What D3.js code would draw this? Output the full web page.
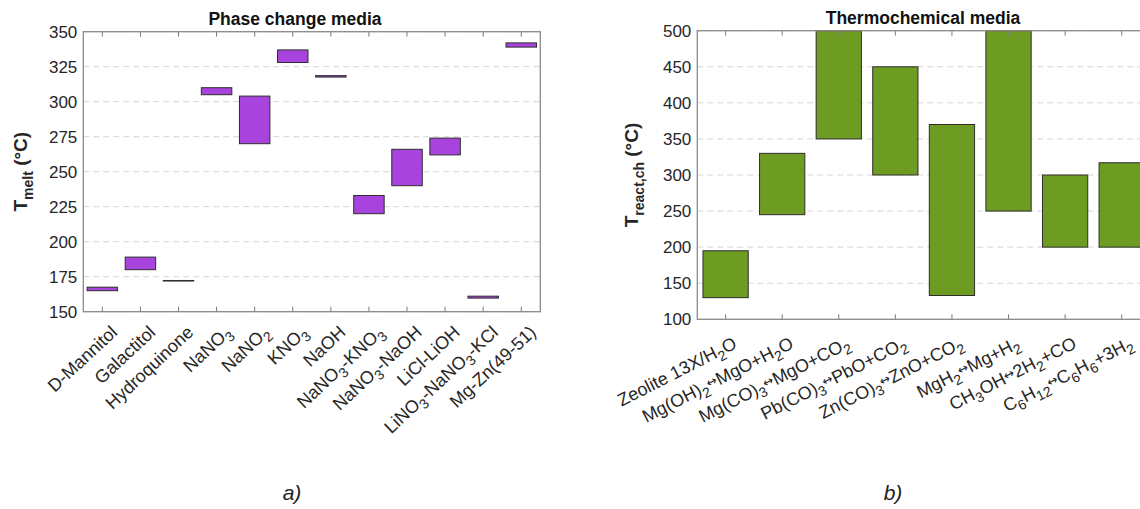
<!DOCTYPE html>
<html>
<head>
<meta charset="utf-8">
<script src="https://cdn.jsdelivr.net/npm/d3@7"></script>
<style>
  html, body { margin: 0; padding: 0; background: #fff; overflow: hidden; }
  svg { display: block; }
  text { font-family: "Liberation Sans", Arial, sans-serif; }
</style>
</head>
<body>
<svg id="fig" width="1140" height="509"></svg>
<script>
// ---- Phase change media: melting ranges (°C) ----
const pcmNames = ["D-Mannitol", "Galactitol", "Hydroquinone", "NaNO_3", "NaNO_2", "KNO_3", "NaOH",
                  "NaNO_3-KNO_3", "NaNO_3-NaOH", "LiCl-LiOH", "LiNO_3-NaNO_3-KCl", "Mg-Zn(49-51)"];
const pcmLow  = [165, 180, 171.9, 305, 270, 328, 317.6, 220, 240, 262, 159.7, 339];
const pcmHigh = [167.5, 189, 172.3, 310, 304, 337, 318.6, 233, 266, 274, 161.1, 342];
const pcmTicks = [150, 175, 200, 225, 250, 275, 300, 325, 350];

// ---- Thermochemical media: reaction ranges (°C) ----
const tcmNames = ["Zeolite 13X/H_2O", "Mg(OH)_2↔MgO+H_2O", "Mg(CO)_3↔MgO+CO_2", "Pb(CO)_3↔PbO+CO_2",
                  "Zn(CO)_3↔ZnO+CO_2", "MgH_2↔Mg+H_2", "CH_3OH↔2H_2+CO", "C_6H_{12}↔C_6H_6+3H_2"];
const tcmLow  = [130, 245, 350, 300, 133, 250, 200, 200];
const tcmHigh = [195, 330, 500, 450, 370, 500, 300, 317];
const tcmTicks = [100, 150, 200, 250, 300, 350, 400, 450, 500];

const svg = d3.select("#fig");

// Split a TeX-like label ("NaNO_3", "C_6H_{12}") into runs of normal / subscript / arrow text
function parseRich(str) {
  const runs = [];
  let i = 0, buf = "";
  const flush = () => { if (buf) { runs.push({ t: buf, k: "n" }); buf = ""; } };
  while (i < str.length) {
    const c = str[i];
    if (c === "_") {
      flush();
      let sub = "";
      if (str[i + 1] === "{") {
        const j = str.indexOf("}", i + 2);
        sub = str.slice(i + 2, j); i = j + 1;
      } else { sub = str[i + 1]; i += 2; }
      runs.push({ t: sub, k: "s" });
    } else if (c === "↔") {
      flush(); runs.push({ t: c, k: "a" }); i++;
    } else { buf += c; i++; }
  }
  flush();
  return runs;
}

// Write the runs as tspans, tracking the baseline offset so each run sits at its own level
function writeRich(textSel, str, size, subSize, subShift) {
  let cur = 0;
  parseRich(str).forEach(r => {
    let target = 0, fs = size, fam = null;
    if (r.k === "s") { target = subShift; fs = subSize; }
    else if (r.k === "a") { target = -3; fs = size * 0.7; fam = "DejaVu Sans"; }
    const ts = textSel.append("tspan").attr("font-size", fs).attr("dy", target - cur).text(r.t);
    if (fam) ts.attr("font-family", fam);
    cur = target;
  });
}

function drawPanel(opt) {
  const { x0, x1, y0, y1, names, low, high, ticks, color, title, titleX,
          yLabelSub, yLabelX, rot, lblDx, lblDy } = opt;
  const g = svg.append("g");

  const x = d3.scaleBand().domain(d3.range(names.length)).range([x0, x1])
    .paddingInner(0.2).paddingOuter(0.1);
  const y = d3.scaleLinear().domain([ticks[0], ticks[ticks.length - 1]]).range([y1, y0]);

  // dashed horizontal grid
  g.append("g").selectAll("line").data(ticks).join("line")
    .attr("x1", x0).attr("x2", x1)
    .attr("y1", d => y(d)).attr("y2", d => y(d))
    .attr("stroke", "#d6d6d6").attr("stroke-width", 1)
    .attr("stroke-dasharray", "6,4");

  // range bars
  g.append("g").selectAll("rect").data(names.map((n, i) => i)).join("rect")
    .attr("x", i => x(i))
    .attr("width", x.bandwidth())
    .attr("y", i => y(high[i]))
    .attr("height", i => y(low[i]) - y(high[i]))
    .attr("fill", color)
    .attr("stroke", "#2e2e2e").attr("stroke-width", 1);

  // y tick labels
  const yAxis = d3.axisLeft(y).tickValues(ticks).tickSize(0).tickPadding(6);
  const ya = g.append("g").attr("transform", `translate(${x0},0)`).call(yAxis);
  ya.select(".domain").remove();
  ya.selectAll("text").attr("font-size", 17).attr("fill", "#262626")
    .attr("font-family", "Liberation Sans, Arial, sans-serif");

  // inner tick marks at top and bottom
  const tk = g.append("g");
  names.forEach((n, i) => {
    const cx = x(i) + x.bandwidth() / 2;
    tk.append("line").attr("x1", cx).attr("x2", cx).attr("y1", y1).attr("y2", y1 - 5)
      .attr("stroke", "#7a7a7a").attr("stroke-width", 1);
    tk.append("line").attr("x1", cx).attr("x2", cx).attr("y1", y0).attr("y2", y0 + 5)
      .attr("stroke", "#7a7a7a").attr("stroke-width", 1);
  });

  // axes box
  g.append("rect").attr("x", x0).attr("y", y0).attr("width", x1 - x0).attr("height", y1 - y0)
    .attr("fill", "none").attr("stroke", "#8a8a8a").attr("stroke-width", 1.3);

  // rotated category labels
  names.forEach((n, i) => {
    const cx = x(i) + x.bandwidth() / 2;
    const t = g.append("text")
      .attr("transform", `translate(${cx + lblDx},${y1 + lblDy}) rotate(${-rot})`)
      .attr("text-anchor", "end")
      .attr("fill", "#262626");
    writeRich(t, n, 18, 14, 5);
  });

  // title
  g.append("text").attr("x", titleX).attr("y", y0 - 7)
    .attr("text-anchor", "middle").attr("font-weight", "bold")
    .attr("font-size", 17.5).attr("fill", "#111").text(title);

  // y axis title with subscript
  const yt = g.append("text")
    .attr("transform", `translate(${yLabelX},${(y0 + y1) / 2}) rotate(-90)`)
    .attr("text-anchor", "middle").attr("font-weight", "bold").attr("fill", "#262626");
  yt.append("tspan").attr("font-size", 19).text("T");
  yt.append("tspan").attr("font-size", 14).attr("dy", 6).text(yLabelSub);
  yt.append("tspan").attr("font-size", 19).attr("dy", -6).text(" (°C)");
}

drawPanel({
  x0: 83.3, x1: 540.3, y0: 31.7, y1: 311.7,
  names: pcmNames, low: pcmLow, high: pcmHigh, ticks: pcmTicks,
  color: "#a843dd", title: "Phase change media", titleX: 295,
  yLabelSub: "melt", yLabelX: 27, rot: 43, lblDx: 16, lblDy: 22
});

drawPanel({
  x0: 697.3, x1: 1150, y0: 30.7, y1: 319.3,
  names: tcmNames, low: tcmLow, high: tcmHigh, ticks: tcmTicks,
  color: "#6e9b22", title: "Thermochemical media", titleX: 923,
  yLabelSub: "react,ch", yLabelX: 638, rot: 27, lblDx: 12.5, lblDy: 28
});

// panel letters
svg.append("text").attr("x", 292).attr("y", 500).attr("text-anchor", "middle")
  .attr("font-style", "italic").attr("font-size", 21).attr("fill", "#222").text("a)");
svg.append("text").attr("x", 893).attr("y", 500).attr("text-anchor", "middle")
  .attr("font-style", "italic").attr("font-size", 21).attr("fill", "#222").text("b)");
</script>
</body>
</html>
